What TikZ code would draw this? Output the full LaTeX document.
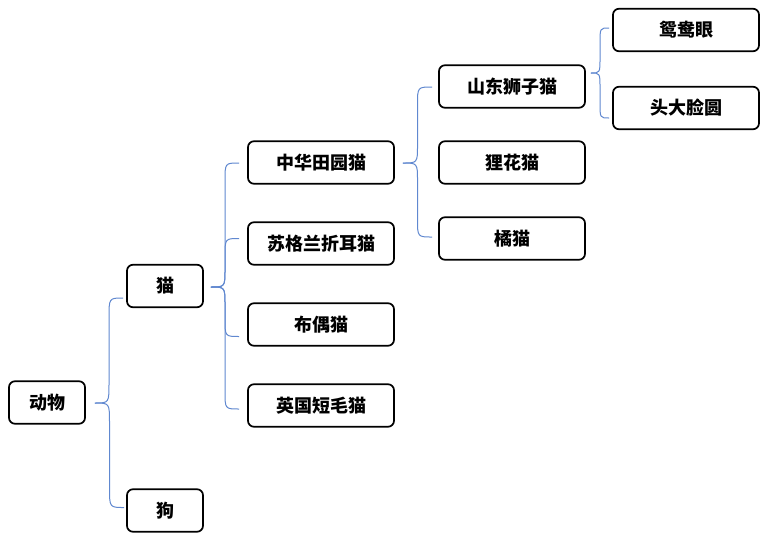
\documentclass[tikz,border=0pt]{standalone}
\usepackage{fontspec}
\newfontfamily\cjk{Noto Sans CJK SC}
\usetikzlibrary{calc}
\definecolor{brk}{RGB}{96,136,208}
\tikzset{
  box/.style={draw=black, line width=1.7pt, rounded corners=6pt, inner sep=0pt,
    minimum height=42.5pt, font=\cjk\bfseries\fontsize{18}{21}\selectfont},
  smallbox/.style={box, minimum width=76pt},
  widebox/.style={box, minimum width=146pt},
  conn/.style={draw=brk, line width=1pt},
}
\newcommand\brk[7]{%
  \path ([shift={(#3,#4)}]#1.east) coordinate (ba) ([shift={(#5,#6)}]#2.west) coordinate (bb);
  \path ($(ba)!0.5!(bb)$) coordinate (bm);
  \draw[conn] (ba) .. controls (bm |- ba) .. ($(bm |- ba)+(0,#7)$) -- ($(bm |- bb)-(0,#7)$) .. controls (bm |- bb) .. (bb);}
\begin{document}
\begin{tikzpicture}[x=1pt,y=-1pt]
\useasboundingbox[fill=white] (0,0) rectangle (767,539);
\node[smallbox] (dongwu) at (47,402.5) {动物};
\node[smallbox] (mao) at (165,286) {猫};
\node[smallbox] (gou) at (165,510.5) {狗};
\node[widebox] (zhonghua) at (321,162.5) {中华田园猫};
\node[widebox] (sugelan) at (321,243.5) {苏格兰折耳猫};
\node[widebox] (buou) at (321,324.5) {布偶猫};
\node[widebox] (yingguo) at (321,405.5) {英国短毛猫};
\node[widebox] (shandong) at (512,86.5) {山东狮子猫};
\node[widebox] (lihua) at (512,162.5) {狸花猫};
\node[widebox] (ju) at (512,238.5) {橘猫};
\node[widebox] (yuanyang) at (686,30) {鸳鸯眼};
\node[widebox] (toudalian) at (686,108) {头大脸圆};
% brackets
\brk{dongwu}{mao}{9}{0.5}{-3}{12}{-20}
\brk{dongwu}{gou}{9}{0.5}{-2}{-3}{20}
\brk{mao}{zhonghua}{7}{1}{-8}{0.5}{-18}
\brk{mao}{sugelan}{7}{1}{-8}{-5}{-18}
\brk{mao}{buou}{7}{1}{-8}{12}{18}
\brk{mao}{yingguo}{7}{1}{-8}{3.5}{18}
\brk{zhonghua}{shandong}{8}{0.5}{-6}{0.5}{-18}
\brk{zhonghua}{ju}{8}{0.5}{-6}{-1.5}{18}
\brk{shandong}{yuanyang}{5}{-13.5}{-3}{-2}{-15}
\brk{shandong}{toudalian}{5}{-13.5}{-3}{10}{15}
\end{tikzpicture}
\end{document}
